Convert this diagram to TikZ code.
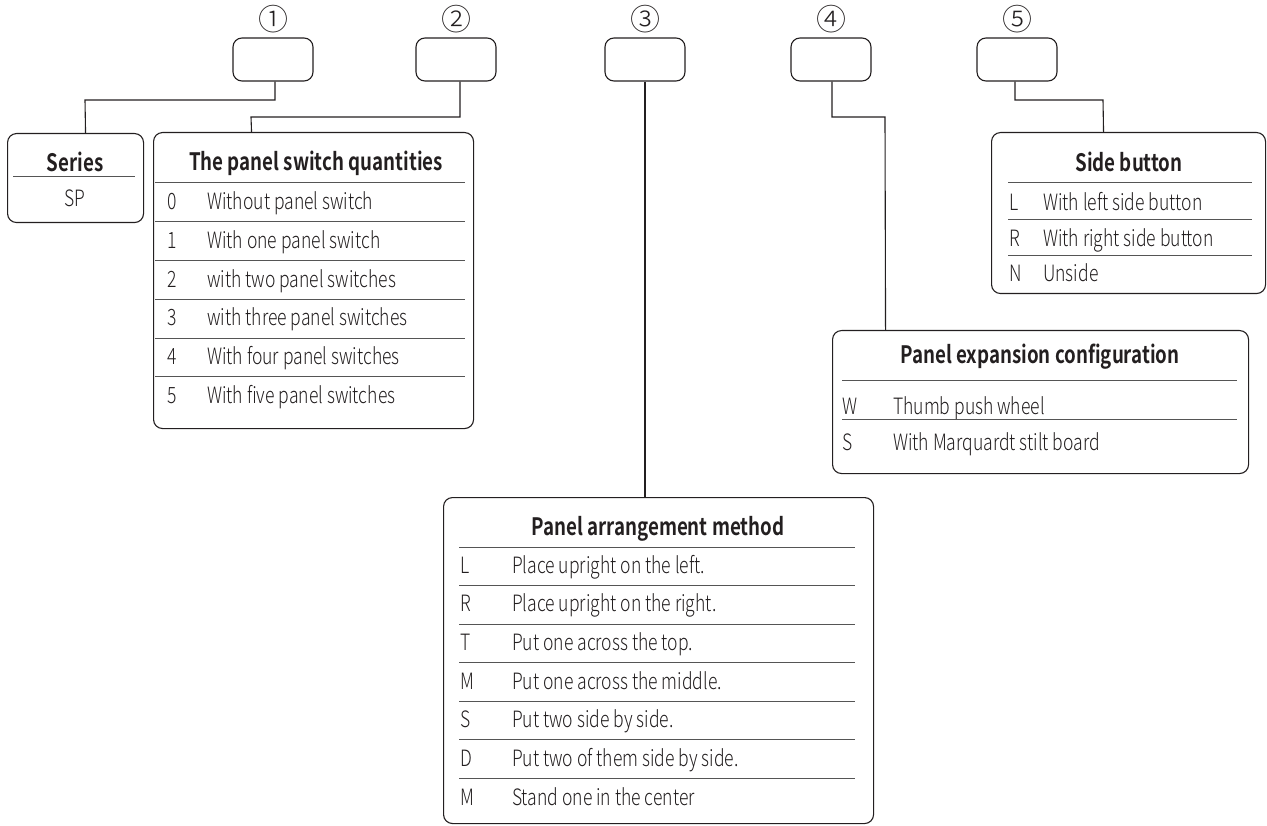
\documentclass[tikz,border=0pt]{standalone}
\usepackage{fontspec}
\setmainfont{Noto Sans CJK SC}[UprightFont=* Light, BoldFont=* Bold, FakeStretch=0.78]
\newfontfamily\circfont{Noto Sans CJK SC}[UprightFont=* Light]
\usetikzlibrary{positioning}

\definecolor{ink}{HTML}{231F20}
\definecolor{rulegray}{HTML}{555555}

\begin{document}
\begin{tikzpicture}[x=1pt, y=-1pt, every node/.style={text=ink}]
	\tikzstyle{slot} = [draw=ink, line width=1.1pt, rounded corners=9pt, minimum width=80pt, minimum height=43pt, inner sep=0pt]
	\tikzstyle{panel} = [draw=ink, line width=1.1pt, rounded corners=9pt, anchor=north west, inner sep=0pt]
	\tikzstyle{num} = [font=\fontsize{30}{30}\circfont, inner sep=0pt]
	\tikzstyle{head} = [font=\fontsize{24}{26}\selectfont\bfseries, inner sep=0pt, anchor=base]
	\tikzstyle{cell} = [font=\fontsize{22.5}{24}\selectfont, inner sep=0pt, anchor=base west]
	\tikzstyle{rule} = [draw=rulegray, line width=1pt]
	\tikzstyle{link} = [draw=ink, line width=1.1pt]

	\useasboundingbox (0,0) rectangle (1267,826);

	% code slots
	\node[slot] (s1) at (273,59.5) {};
	\node[slot] (s2) at (456,59.5) {};
	\node[slot] (s3) at (645,59.5) {};
	\node[slot] (s4) at (831,59.5) {};
	\node[slot] (s5) at (1017,59.5) {};
	\node[num, above=4pt of s1] (n1) {①};
	\node[num, above=4pt of s2] (n2) {②};
	\node[num, above=4pt of s3] (n3) {③};
	\node[num, above=4pt of s4] (n4) {④};
	\node[num, above=4pt of s5] (n5) {⑤};

	% tables
	\node[panel, minimum width=136pt, minimum height=89pt] (series) at (7,133) {};
	\node[panel, minimum width=320pt, minimum height=296pt] (qty) at (153,132) {};
	\node[panel, minimum width=430pt, minimum height=326pt] (arr) at (443,497) {};
	\node[panel, minimum width=416pt, minimum height=143pt] (exp) at (832,330) {};
	\node[panel, minimum width=274pt, minimum height=161pt] (side) at (991,132) {};

	% series
	\node[head] (series-t) at (75,172) {Series};
	\draw[rule] (13,177) -- (135,177);
	\node[cell, anchor=base] (series-sp) at (75,207) {SP};

	% switch quantities
	\node[head] (qty-t) at (316,171) {The panel switch quantities};
	\foreach \code/\desc [count=\i from 0] in {0/Without panel switch, 1/With one panel switch, 2/with two panel switches, 3/with three panel switches, 4/With four panel switches, 5/With five panel switches} {
		\draw[rule] (155,{183+38.8*\i}) -- (465,{183+38.8*\i});
		\node[cell] (qc\i) at (167,{210+38.6*\i}) {\code};
		\node[cell] (qd\i) at (207,{210+38.6*\i}) {\desc};
	}

	% arrangement
	\node[head] (arr-t) at (658,535) {Panel arrangement method};
	\foreach \code/\desc [count=\i from 0] in {L/Place upright on the left., R/Place upright on the right., T/Put one across the top., M/Put one across the middle., S/Put two side by side., D/Put two of them side by side., M/Stand one in the center} {
		\draw[rule] (459,{547+38.5*\i}) -- (855,{547+38.5*\i});
		\node[cell] (ac\i) at (460,{573+38.67*\i}) {\code};
		\node[cell] (ad\i) at (512,{573+38.67*\i}) {\desc};
	}

	% expansion
	\node[head] (exp-t) at (1040,363) {Panel expansion configuration};
	\foreach \code/\desc [count=\i from 0] in {W/Thumb push wheel, S/With Marquardt stilt board} {
		\draw[rule] (842,{381+38*\i}) -- (1237,{381+38*\i});
		\node[cell] (ec\i) at (842,{414+36.5*\i}) {\code};
		\node[cell] (ed\i) at (893,{414+36.5*\i}) {\desc};
	}

	% side button
	\node[head] (side-t) at (1129,172) {Side button};
	\foreach \code/\desc [count=\i from 0] in {L/With left side button, R/With right side button, N/Unside} {
		\draw[rule] (1008,{183+36.5*\i}) -- (1252,{183+36.5*\i});
		\node[cell] (sc\i) at (1009,{211+35.5*\i}) {\code};
		\node[cell] (sd\i) at (1043,{211+35.5*\i}) {\desc};
	}

	% connectors
	\draw[link] ([shift={(2,0)}]s1.south) |- (85,100) -- ([shift={(10,0)}]series.north);
	\draw[link] ([shift={(4,0)}]s2.south) |- (251,117) -- ([shift={(-62,0)}]qty.north);
	\draw[link] (s3.south) -- (s3.south |- arr.north);
	\draw[link] ([shift={(1,0)}]s4.south) |- (885,117) -- ([shift={(-155,0)}]exp.north);
	\draw[link] ([shift={(-2,0)}]s5.south) |- (1103,100) -- ([shift={(-25,0)}]side.north);
\end{tikzpicture}
\end{document}
